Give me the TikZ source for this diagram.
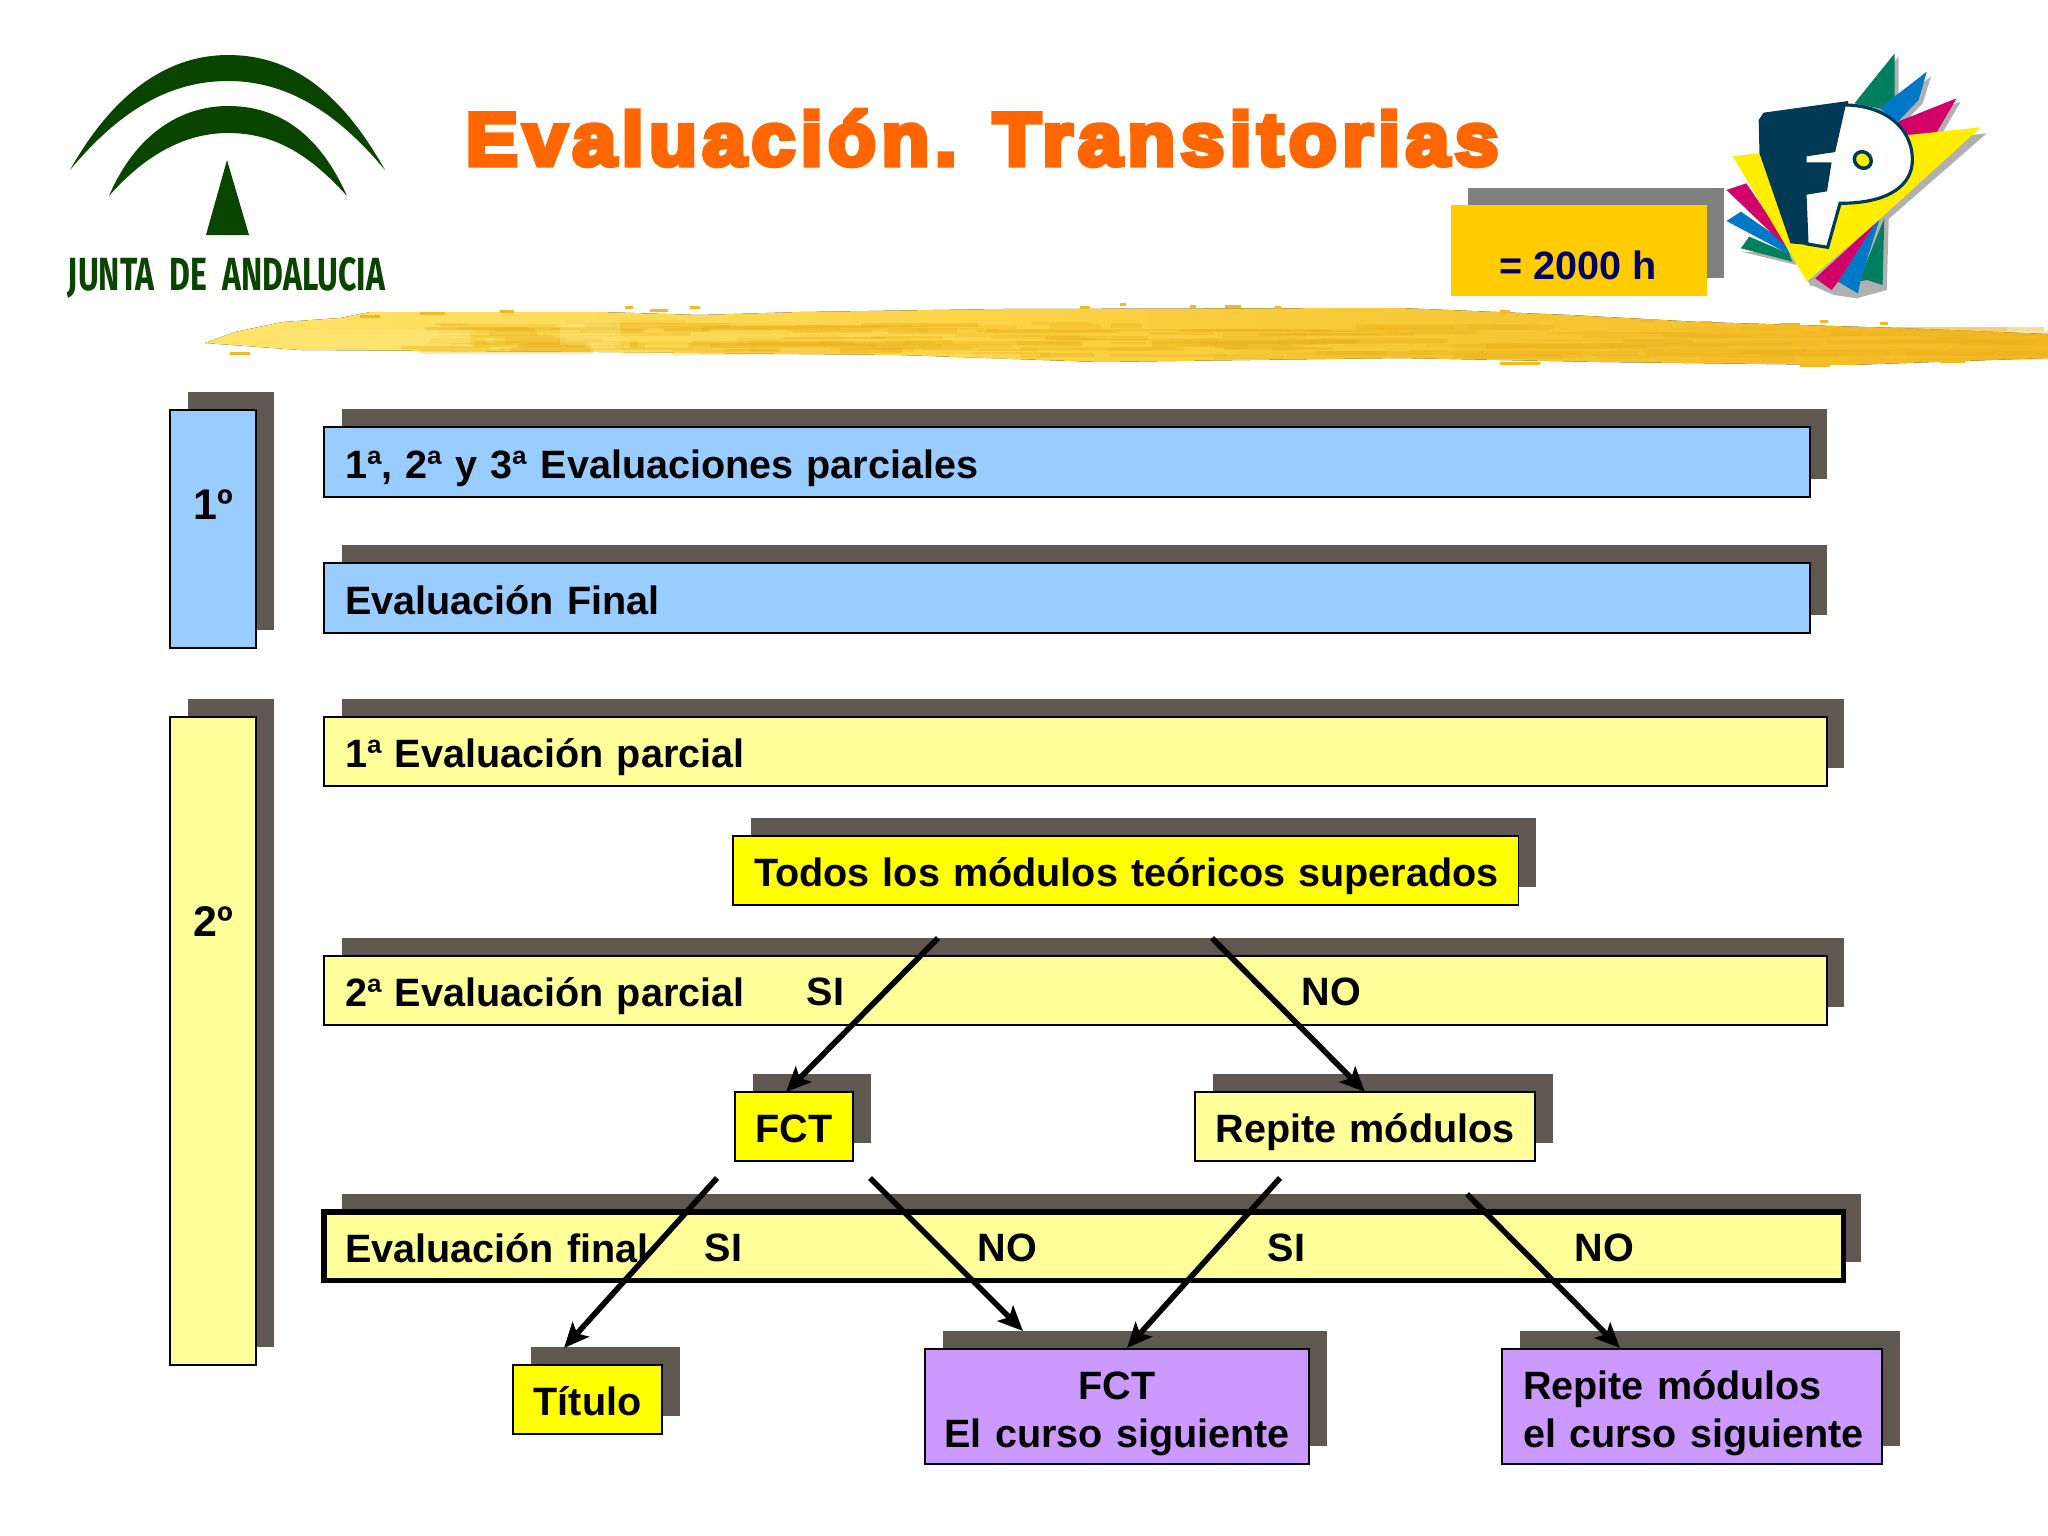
\documentclass[tikz,border=0pt]{standalone}
\usepackage{fontspec}
\usepackage{graphicx}
\usetikzlibrary{shadows,arrows.meta}
\setmainfont{Liberation Sans}
\newfontfamily\titlefont[FakeBold=7,FakeStretch=1.05,LetterSpace=7.5]{Liberation Sans Bold}
\newfontfamily\logofont{Fira Sans}
\definecolor{shc}{HTML}{5F5850}
\definecolor{bluebox}{HTML}{99CCFF}
\definecolor{paleyel}{HTML}{FFFF99}
\definecolor{purplebox}{HTML}{CC99FF}
\definecolor{strongyel}{HTML}{FFFF00}
\definecolor{hoursbox}{HTML}{FFCC00}
\definecolor{hoursink}{HTML}{000066}
\definecolor{hoursh}{HTML}{808080}
\definecolor{titlec}{HTML}{FF6600}
\definecolor{junta}{HTML}{0A4500}
\definecolor{fpnavy}{HTML}{003A55}
\definecolor{fpgreen}{HTML}{007F5F}
\definecolor{fpblue}{HTML}{0078C8}
\definecolor{fpmag}{HTML}{D4006A}
\definecolor{fpyel}{HTML}{FFEE00}
\definecolor{fpsh}{HTML}{B0B0B0}
\definecolor{brA}{HTML}{FFE46A}
\definecolor{brB}{HTML}{FAD040}
\definecolor{brC}{HTML}{F3B822}
\definecolor{brD}{HTML}{E9B21C}
\definecolor{brE}{HTML}{FFE98A}
\tikzset{
  x=0.01cm,y=-0.01cm,
  boxed/.style={draw=black,line width=0.55pt,anchor=north west,inner ysep=0pt,inner xsep=0pt,outer sep=0pt,
    font=\fontsize{11.25}{13.6}\selectfont\bfseries,
    general shadow={fill=shc,shadow xshift=0.175cm,shadow yshift=0.18cm}},
  word/.style={font=\fontsize{11.25}{13.6}\selectfont\bfseries,inner sep=0pt,anchor=base west},
  flow/.style={line width=1.6pt,-{Stealth[length=0.25cm,width=0.22cm,inset=0.055cm]}},
  logo/.style={shift={(1400,20)},xscale=0.4132,yscale=0.3333}
}
\newcommand{\pad}[1]{\hspace*{0.21cm}#1}
\newcommand{\tb}{\rule{0pt}{0.42cm}}
\newcommand{\tbd}{\rule[-0.08cm]{0pt}{0.486cm}}
\begin{document}
\begin{tikzpicture}
\useasboundingbox (0,0) rectangle (2048,1536);
\fill[white] (0,0) rectangle (2048,1536);

% Junta logo
\fill[junta] (70,170) .. controls (115,90) and (170,55) .. (228,55) .. controls (290,55) and (340,90) .. (385,170)
  .. controls (335,110) and (285,81) .. (228,81) .. controls (170,81) and (120,110) .. (70,170) -- cycle;
\fill[junta] (109,196) .. controls (135,135) and (180,106) .. (228,106) .. controls (280,106) and (320,135) .. (347,196)
  .. controls (310,155) and (275,133) .. (228,133) .. controls (185,133) and (145,155) .. (109,196) -- cycle;
\fill[junta] (227,160) -- (249,235) -- (206,235) -- cycle;
\node[inner sep=0pt,text=junta] (juntatext) at (226.5,278) {\resizebox{3.17cm}{0.33cm}{\logofont\bfseries JUNTA\ \ DE\ \ ANDALUCIA}};

% brush stroke
\fill[left color=brA,right color=brC,middle color=brB]
  (205,343) -- (235,332) -- (283,322) -- (340,318) -- (370,312) -- (600,312) -- (700,315) -- (800,312) -- (1000,309) -- (1400,308)
  -- (1570,315) -- (1700,322) -- (1900,328) -- (2048,334) -- (2048,358) -- (1850,365) -- (1600,362)
  -- (1400,358) -- (1100,362) -- (900,355) -- (600,352) -- (300,350) -- cycle;
\pgfmathsetseed{11}
\foreach \i in {1,...,170}{
  \pgfmathsetmacro{\sx}{400+rnd*1560}
  \pgfmathsetmacro{\sy}{318+rnd*32+(\sx-400)*0.006}
  \pgfmathsetmacro{\sw}{30+rnd*170}
  \pgfmathsetmacro{\sh}{2+rnd*4}
  \pgfmathsetmacro{\so}{0.15+rnd*0.3}
  \fill[brD,opacity=\so] (\sx,\sy) rectangle ++(\sw,\sh);
}
\foreach \fx/\fy/\fw/\fh in {280/330/190/16,300/344/90/4,560/320/60/25,590/342/40/6,620/352/60/4,950/354/70/5}
  \fill[brE,opacity=.35] (\fx,\fy) rectangle ++(\fw,\fh);
\foreach \fx/\fy/\fw in {360/315/20,420/312/25,500/310/14,625/306/8,650/309/18,690/306/10,1080/306/10,1120/303/6,1190/305/6,1225/305/16,1275/306/6,1500/310/10,1640/319/14,1700/321/12,1780/323/20,1820/320/8,1880/322/8,230/352/20,1800/364/30,1500/362/40,1940/360/25}
  \fill[brC] (\fx,\fy) rectangle ++(\fw,3);

% title
\node[inner sep=0pt,text=titlec,anchor=base west] (title) at (465,165)
  {\fontsize{21.2}{26}\selectfont\titlefont Evaluación. Transitorias};

% FP logo
\begin{scope}[logo]
\fill[fpsh] (1100,260) -- (1207,110) -- (1207,240) -- (1170,275) -- cycle;
\fill[fpsh] (1170,275) -- (1285,170) -- (1265,250) -- (1215,315) -- cycle;
\fill[fpsh] (1215,315) -- (1357,245) -- (1305,355) -- (1235,355) -- cycle;
\fill[fpsh] (815,418) -- (1420,340) -- (995,800) -- cycle;
\fill[fpsh] (825,695) -- (960,735) -- (950,700) -- cycle;
\fill[fpsh] (995,795) -- (1050,825) -- (1105,835) -- (1178,810) -- (1183,590) -- (1150,620) -- cycle;
\fill[fpgreen] (1100,250) -- (1197,100) -- (1197,235) -- (1160,265) -- cycle;
\fill[fpblue] (1160,265) -- (1275,155) -- (1255,240) -- (1205,305) -- cycle;
\fill[fpmag] (1205,305) -- (1347,235) -- (1295,345) -- (1225,345) -- cycle;
\fill[fpgreen] (825,685) -- (845,650) -- (940,700) -- (950,725) -- cycle;
\fill[fpblue] (790,603) -- (825,575) -- (930,665) -- (945,705) -- cycle;
\fill[fpmag] (790,510) -- (838,490) -- (945,685) -- (925,670) -- cycle;
\fill[fpgreen] (1110,785) -- (1172,595) -- (1168,795) -- (1130,780) -- cycle;
\fill[fpblue] (1060,785) -- (1150,610) -- (1160,600) -- (1115,780) -- (1108,820) -- cycle;
\fill[fpmag] (1005,775) -- (1150,610) -- (1060,785) -- (1045,810) -- cycle;
\fill[fpyel] (805,408) -- (870,400) -- (1230,345) -- (1405,322) -- (1150,610) -- (985,785) -- cycle;
\fill[fpnavy] (868,300) -- (880,278) -- (1085,243) -- (1060,400) -- (1030,530) -- (980,530) -- (985,675) -- (945,670) -- (870,400) -- cycle;
\filldraw[fill=white,draw=fpnavy,line width=0.9pt] (1075,255) .. controls (1170,255) and (1240,320) .. (1240,420)
  .. controls (1240,490) and (1190,550) .. (1065,550) -- (1035,682) -- (985,672) -- (980,520) -- (1030,510) -- (1040,432) -- (980,432) -- (980,405) -- (1050,392) -- cycle;
\filldraw[fill=fpyel,draw=fpnavy,line width=1pt,rotate around={15:(1120,420)}] (1120,420) ellipse (20 and 25);
\end{scope}

% 2000 h
\fill[hoursh] (1468,188) rectangle (1724,278);
\node[fill=hoursbox,anchor=north west,inner sep=0pt,minimum width=2.56cm,minimum height=0.91cm] (hours) at (1450,204) {};
\node[inner sep=0pt,text=hoursink,font=\fontsize{11.25}{13}\selectfont\bfseries] (hourstext) at (1578,265) {= 2000 h};

% years
\node[boxed,fill=bluebox,minimum width=0.86cm,minimum height=2.38cm] (y1) at (170,410) {};
\node[boxed,fill=paleyel,minimum width=0.86cm,minimum height=6.48cm] (y2) at (170,717) {};
\node[word,anchor=center,font=\fontsize{12.2}{14}\selectfont\bfseries] (y1t) at (213,505) {1º};
\node[word,anchor=center,font=\fontsize{12.2}{14}\selectfont\bfseries] (y2t) at (213,922) {2º};

% bars
\node[boxed,fill=bluebox,minimum width=14.85cm,minimum height=0.7cm,text width=14.85cm,align=left] (a) at (324,427) {\pad{\tbd 1ª, 2ª y 3ª Evaluaciones parciales}};
\node[boxed,fill=bluebox,minimum width=14.85cm,minimum height=0.7cm,text width=14.85cm,align=left] (b) at (324,563) {\pad{\tbd Evaluación Final}};
\node[boxed,fill=paleyel,minimum width=15.02cm,minimum height=0.69cm,text width=15.02cm,align=left] (c) at (324,717) {\pad{\tbd 1ª Evaluación parcial}};
\node[boxed,fill=strongyel,minimum width=7.85cm,minimum height=0.69cm,text width=7.85cm,align=left] (d) at (733,836) {\pad{\tbd Todos los módulos teóricos superados}};
\node[boxed,fill=paleyel,minimum width=15.02cm,minimum height=0.69cm,text width=15.02cm,align=left] (e) at (324,956) {\pad{\tbd 2ª Evaluación parcial}};
\node[boxed,fill=strongyel,minimum width=1.18cm,minimum height=0.69cm,text width=1.18cm,align=center] (f) at (735,1092) {\tbd FCT};
\node[boxed,fill=paleyel,minimum width=3.4cm,minimum height=0.69cm,text width=3.4cm,align=center] (g) at (1195,1092) {\tbd Repite módulos};
\node[boxed,fill=paleyel,line width=1.45pt,minimum width=15.19cm,minimum height=0.68cm,text width=15.19cm,align=left] (h) at (324,1212) {\pad{\tbd Evaluación final}};
\node[boxed,fill=strongyel,minimum width=1.49cm,minimum height=0.69cm,text width=1.49cm,align=center] (t) at (513,1365) {\tbd Título};
\node[boxed,fill=purplebox,minimum width=3.84cm,minimum height=1.15cm,text width=3.84cm,align=center] (p) at (925,1349) {\tb FCT\\El curso siguiente};
\node[boxed,fill=purplebox,minimum width=3.8cm,minimum height=1.15cm,text width=3.8cm,align=left] (q) at (1502,1349) {\pad{\tb Repite módulos}\\\pad{el curso siguiente}};

% SI/NO labels
\node[word] (si1) at (806,1005) {SI};
\node[word] (no1) at (1301,1005) {NO};
\node[word] (si2) at (704,1261) {SI};
\node[word] (no2) at (977,1261) {NO};
\node[word] (si3) at (1267,1261) {SI};
\node[word] (no3) at (1574,1261) {NO};

% connectors
\coordinate (d1) at (938,938);
\coordinate (d2) at (1212,938);
\coordinate (fa) at (786,1092);
\coordinate (ga) at (1365,1092);
\coordinate (f1) at (717,1178);
\coordinate (f2) at (870,1178);
\coordinate (g1) at (1280,1178);
\coordinate (g2) at (1467,1194);
\coordinate (ta) at (564,1348);
\coordinate (pa1) at (1023,1331);
\coordinate (pa2) at (1127,1348);
\coordinate (qa) at (1620,1348);
\draw[flow] (d1) -- (fa);
\draw[flow] (d2) -- (ga);
\draw[flow] (f1) -- (ta);
\draw[flow] (f2) -- (pa1);
\draw[flow] (g1) -- (pa2);
\draw[flow] (g2) -- (qa);
\end{tikzpicture}
\end{document}
